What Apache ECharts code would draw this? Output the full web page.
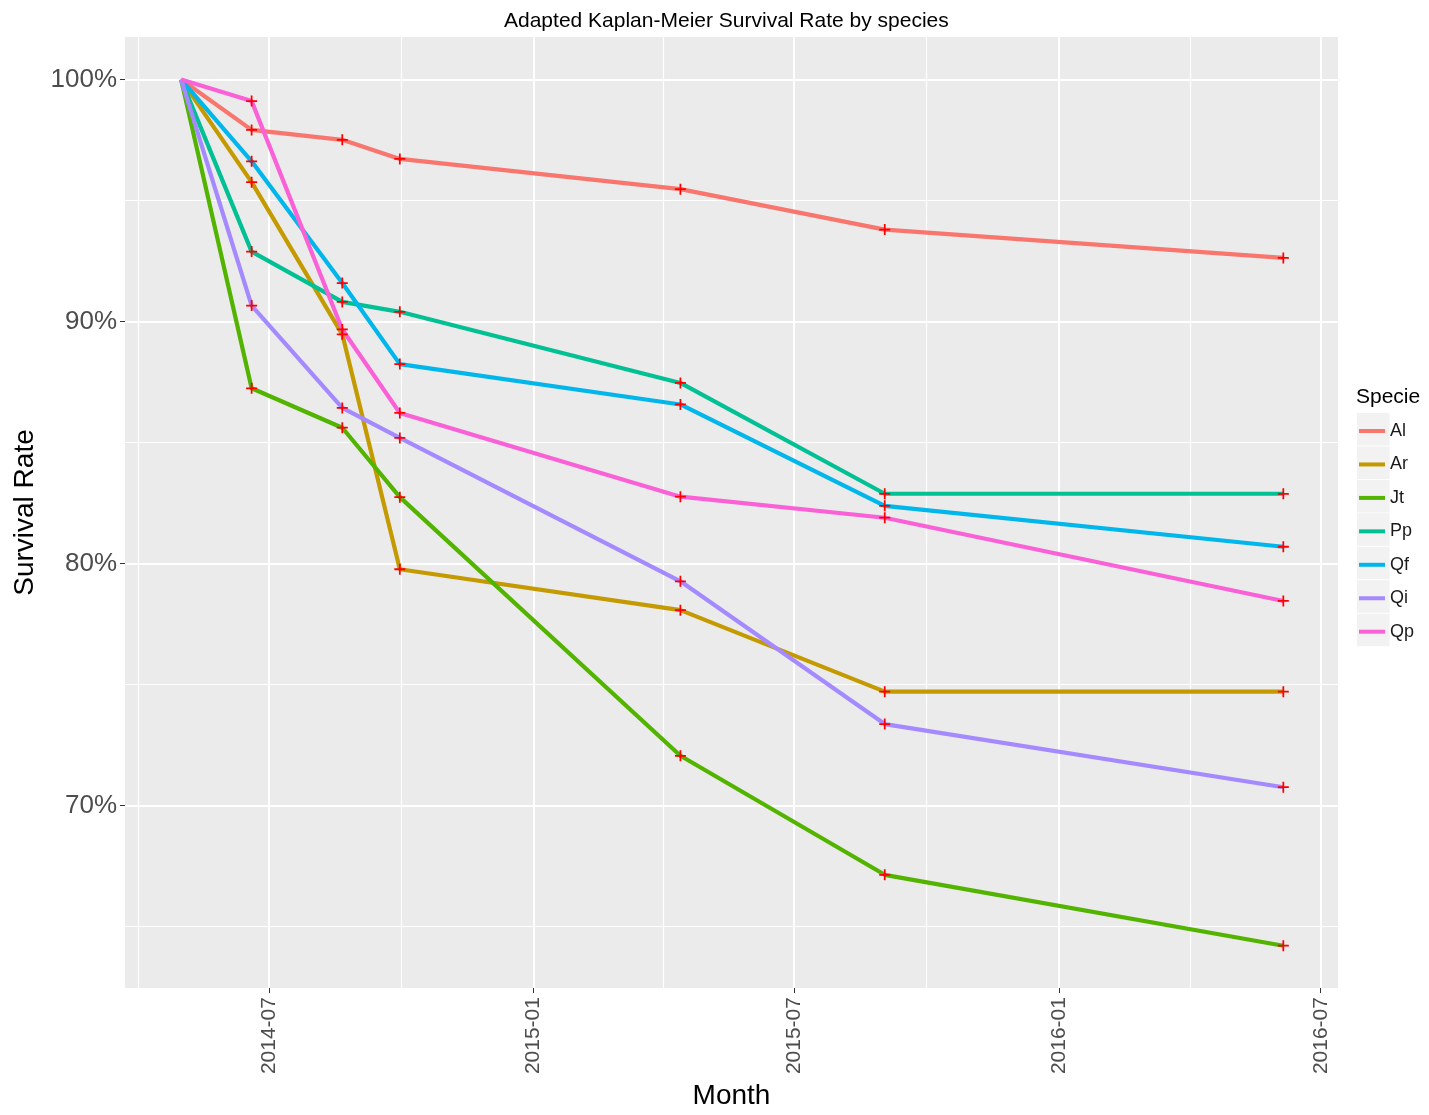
<!DOCTYPE html>
<html><head><meta charset="utf-8">
<script src="https://cdn.jsdelivr.net/npm/echarts@6/dist/echarts.min.js"></script>
<style>html,body{margin:0;padding:0;background:#fff}#c{width:1429px;height:1115px}</style>
</head><body><div id="c"></div>
<script>
// ---- data ----
const species = ['Al', 'Ar', 'Jt', 'Pp', 'Qf', 'Qi', 'Qp'];
const dates = ['2014-05-01', '2014-06-19', '2014-08-21', '2014-09-30', '2015-04-13', '2015-09-02', '2016-06-05'];
const Al = [100, 97.92, 97.51, 96.72, 95.47, 93.80, 92.63];
const Ar = [100, 95.76, 89.47, 79.76, 78.07, 74.70, 74.70];
const Jt = [100, 87.24, 85.61, 82.74, 72.05, 67.13, 64.20];
const Pp = [100, 92.89, 90.81, 90.40, 87.46, 82.88, 82.88];
const Qf = [100, 96.62, 91.59, 88.24, 86.57, 82.38, 80.69];
const Qi = [100, 90.66, 86.43, 85.19, 79.26, 73.36, 70.75];
const Qp = [100, 99.11, 89.67, 86.22, 82.76, 81.89, 78.45];
const xMajorTicks = ['2014-07-01', '2015-01-01', '2015-07-01', '2016-01-01', '2016-07-01'];
const xMinorTicks = ['2014-04-01', '2014-10-01', '2015-04-01', '2015-10-01', '2016-04-01'];
const yMajorTicks = [70, 80, 90, 100];
const yMinorTicks = [65, 75, 85, 95];
const xRange = ['2014-03-23', '2016-07-13'];
const yRange = [62.45, 101.76];

// ---- style ----
const colors = ['#F8766D', '#C49A00', '#53B400', '#00C094', '#00B6EB', '#A58AFF', '#FB61D7'];
const FONT = "'Liberation Sans', Arial, sans-serif";
const ts = s => +new Date(s.replace(/-/g, '/'));
const values = { Al, Ar, Jt, Pp, Qf, Qi, Qp };

const lineSeries = species.map((sp, i) => ({
  name: sp,
  type: 'line',
  data: dates.map((d, k) => [ts(d), values[sp][k]]),
  symbol: 'none',
  lineStyle: { width: 4.2, color: colors[i] },
  itemStyle: { color: colors[i] },
  z: 2 + i * 0.01,
  animation: false
}));

const markPoints = [];
species.forEach(sp => dates.forEach((d, k) => { if (k > 0) markPoints.push([ts(d), values[sp][k]]); }));

const fmt = v => { const d = new Date(v); return d.getFullYear() + '-' + String(d.getMonth() + 1).padStart(2, '0'); };

const chart = echarts.init(document.getElementById('c'));
const legendBoxes = species.map((sp, i) => ({
  type: 'rect', shape: { x: 1357, y: 413 + i * 33.45, width: 32.5, height: 32.5 },
  style: { fill: '#F2F2F2' }, z: -1
}));

chart.setOption({
  animation: false,
  backgroundColor: '#fff',
  title: [
    { text: 'Adapted Kaplan-Meier Survival Rate by species', left: 499, top: 6,
      textStyle: { fontFamily: FONT, fontSize: 21, fontWeight: 'normal', color: '#000' } },
    { text: 'Specie', left: 1351, top: 382,
      textStyle: { fontFamily: FONT, fontSize: 21, fontWeight: 'normal', color: '#000' } }
  ],
  legend: {
    data: species, orient: 'vertical', left: 1354, top: 417,
    icon: 'rect', itemWidth: 26, itemHeight: 4, itemGap: 15.45,
    textStyle: { fontFamily: FONT, fontSize: 18, lineHeight: 18, color: '#1a1a1a' }
  },
  graphic: legendBoxes,
  grid: { left: 125, right: 91, top: 37, bottom: 120, show: true, backgroundColor: '#EBEBEB', borderWidth: 0 },
  xAxis: [
    {
      type: 'value', min: ts(xRange[0]), max: ts(xRange[1]), scale: true,
      axisLine: { show: false },
      axisTick: { show: true, customValues: xMajorTicks.map(ts), length: 5, lineStyle: { color: '#333', width: 1 } },
      axisLabel: { customValues: xMajorTicks.map(ts), rotate: 90, formatter: fmt, fontFamily: FONT, fontSize: 21, color: '#4d4d4d', margin: 9 },
      splitLine: { show: true, lineStyle: { color: '#fff', width: 2 } },
      name: 'Month', nameLocation: 'middle', nameGap: 88,
      nameTextStyle: { fontFamily: FONT, fontSize: 28, color: '#000' }
    },
    {
      type: 'value', min: ts(xRange[0]), max: ts(xRange[1]), scale: true, position: 'bottom',
      axisLine: { show: false },
      axisTick: { show: false, customValues: xMinorTicks.map(ts) },
      axisLabel: { show: false, customValues: xMinorTicks.map(ts) },
      splitLine: { show: true, lineStyle: { color: '#fff', width: 1.2 } }
    }
  ],
  yAxis: [
    {
      type: 'value', min: yRange[0], max: yRange[1],
      axisLine: { show: false },
      axisTick: { show: true, customValues: yMajorTicks, length: 5, lineStyle: { color: '#333', width: 1 } },
      axisLabel: { customValues: yMajorTicks, formatter: v => v + '%', fontFamily: FONT, fontSize: 26, color: '#4d4d4d', margin: 8 },
      splitLine: { show: true, lineStyle: { color: '#fff', width: 2 } },
      name: 'Survival Rate', nameLocation: 'middle', nameGap: 74, nameRotate: 90,
      nameTextStyle: { fontFamily: FONT, fontSize: 28, color: '#000' }
    },
    {
      type: 'value', min: yRange[0], max: yRange[1],
      axisLine: { show: false },
      axisTick: { show: false, customValues: yMinorTicks },
      axisLabel: { show: false, customValues: yMinorTicks },
      splitLine: { show: true, lineStyle: { color: '#fff', width: 1.2 } }
    }
  ],
  series: lineSeries.concat([{
    name: 'marks', type: 'scatter', data: markPoints,
    symbol: 'path://M4.2,0H5.8V4.2H10V5.8H5.8V10H4.2V5.8H0V4.2H4.2Z',
    symbolSize: 11, itemStyle: { color: '#FF0000', opacity: 1 }, z: 5, silent: true
  }])
});
</script>
</body></html>
